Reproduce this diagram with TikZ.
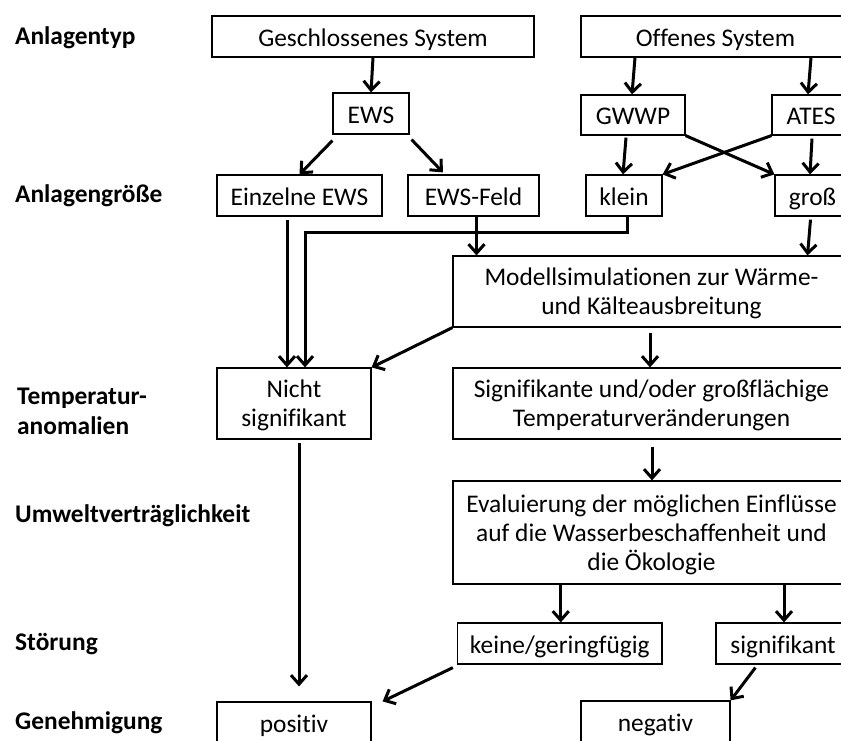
\documentclass[tikz,border=0pt]{standalone}
\usepackage{fontspec}
\setmainfont{Carlito}[Ligatures=NoCommon]
\usetikzlibrary{arrows.meta,calc}
\begin{document}
\begin{tikzpicture}[x=1pt,y=-1pt,
  box/.style={draw=black,line width=1.2pt,inner sep=0pt,align=center,text depth=0pt,font=\fontsize{25.4}{29}\selectfont},
  single/.style={text height=19pt},
  lab/.style={anchor=west,inner sep=0pt,align=left,font=\fontsize{25.4}{30}\selectfont\bfseries},
  arr/.style={line width=3pt,-{Straight Barb[length=9pt,width=16pt,line width=3pt]}}]
\useasboundingbox (0,0) rectangle (841,740);
\fill[white] (0,0) rectangle (841,740);
% left labels
\node[lab] (l1) at (15,38) {Anlagentyp};
\node[lab] (l2) at (15,196) {Anlagengröße};
\node[lab] (l3) at (17,411) {Temperatur-\\anomalien};
\node[lab] (l4) at (15,516) {Umweltverträglichkeit};
\node[lab] (l5) at (15,644) {Störung};
\node[lab] (l6) at (15,723) {Genehmigung};
% boxes
\node[box,single,minimum width=322pt,minimum height=41pt] (geschl) at (373,36.5) {Geschlossenes System};
\node[box,single,minimum width=269pt,minimum height=41pt] (offen) at (715.5,36.5) {Offenes System};
\node[box,single,minimum width=76pt,minimum height=41pt] (ews) at (371,113.5) {EWS};
\node[box,single,minimum width=104pt,minimum height=40pt] (gwwp) at (633,115) {GWWP};
\node[box,single,minimum width=78pt,minimum height=40pt] (ates) at (811,115) {ATES};
\node[box,single,minimum width=165pt,minimum height=41pt] (einz) at (299.5,195.5) {Einzelne EWS};
\node[box,single,minimum width=131pt,minimum height=41pt] (feld) at (473.5,195.5) {EWS-Feld};
\node[box,single,minimum width=76pt,minimum height=41pt] (klein) at (624,195.5) {klein};
\node[box,single,minimum width=75pt,minimum height=41pt] (gross) at (812.5,195.5) {groß};
\node[box,minimum width=397pt,minimum height=71pt] (modell) at (651.5,291.5) {Modellsimulationen zur Wärme-\\und Kälteausbreitung};
\node[box,minimum width=154pt,minimum height=71pt] (nicht) at (294,403.5) {Nicht\\signifikant};
\node[box,minimum width=397pt,minimum height=71pt] (sig) at (651.5,403.5) {Signifikante und/oder großflächige\\Temperaturveränderungen};
\node[box,minimum width=397pt,minimum height=103pt] (eval) at (651.5,532.5) {Evaluierung der möglichen Einflüsse\\auf die Wasserbeschaffenheit und\\die Ökologie};
\node[box,single,minimum width=204.5pt,minimum height=41pt] (keine) at (559.75,643.5) {keine/geringfügig};
\node[box,single,minimum width=134pt,minimum height=41pt] (signif) at (783,643.5) {signifikant};
\node[box,single,minimum width=154pt,minimum height=41pt] (positiv) at (294,722.5) {positiv};
\node[box,single,minimum width=149pt,minimum height=41pt] (negativ) at (655.5,721.5) {negativ};
% arrows
\draw[arr] (geschl.south) -- (ews.north);
\draw[arr] ([xshift=2pt]gwwp.north |- offen.south) -- ([xshift=-1pt]gwwp.north);
\draw[arr] ([xshift=0pt]ates.north |- offen.south) -- ([xshift=-3pt]ates.north);
\draw[arr] ([yshift=-6pt]ews.south west) -- (einz.north);
\draw[arr] ([xshift=2pt,yshift=-5pt]ews.south east) -- ([xshift=-30.5pt,yshift=2pt]feld.north);
\draw[arr] ([xshift=-7pt,yshift=-2pt]gwwp.south) -- ([xshift=-1pt]klein.north);
\draw[arr] ([xshift=1pt,yshift=-3pt]ates.south) -- ([xshift=-2.5pt]gross.north);
\draw[arr] (gwwp.south east) -- (gross.north west);
\draw[arr] (ates.south west) -- (klein.north east);
\draw[arr] ([xshift=-12.5pt,yshift=-3pt]einz.south) -- ([xshift=-12.5pt]einz.south |- nicht.north);
\coordinate (bend) at (305,232);
\draw[arr] ([xshift=3pt]klein.south) |- (bend) -- (bend |- nicht.north);
\draw[arr] ([xshift=3pt]feld.south) -- ([xshift=3pt]feld.south |- modell.north);
\draw[arr] ([xshift=-2pt,yshift=-3pt]gross.south) -- ([xshift=-5pt]gross.south |- modell.north);
\draw[arr] (modell.south west) -- (nicht.north east);
\draw[arr] ([xshift=-1.5pt,yshift=-5pt]modell.south) -- ([xshift=-1.5pt]sig.north);
\draw[arr] ([xshift=0.5pt,yshift=-7pt]sig.south) -- ([xshift=0.5pt]eval.north);
\draw[arr] ([xshift=1pt]keine.north |- eval.south) -- ([xshift=1pt]keine.north);
\draw[arr] ([xshift=1pt]signif.north |- eval.south) -- ([xshift=1pt]signif.north);
\draw[arr] ([xshift=5pt,yshift=-3pt]nicht.south) -- ([xshift=5pt,yshift=15pt]positiv.north);
\draw[arr] ([xshift=-4pt,yshift=-3pt]keine.south west) -- ([xshift=11pt]positiv.north east);
\draw[arr] ([xshift=40pt,yshift=-3pt]signif.south west) -- (negativ.north east);
\end{tikzpicture}
\end{document}
